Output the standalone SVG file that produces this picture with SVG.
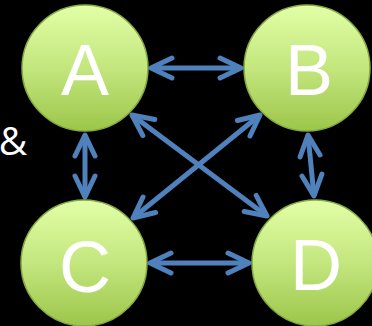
<svg xmlns="http://www.w3.org/2000/svg" width="372" height="326" viewBox="0 0 372 326">
  <defs>
    <linearGradient id="ballFill" x1="0" y1="0" x2="0" y2="1">
      <stop offset="0" stop-color="#e2ffa6"/>
      <stop offset="0.5" stop-color="#c3e67e"/>
      <stop offset="1" stop-color="#9cc64a"/>
    </linearGradient>
    <!-- open chevron head, drawn in user units at both ends of each link -->
    <marker id="chev" viewBox="-26 -14 30 28" markerWidth="30" markerHeight="28" refX="0" refY="0" orient="auto-start-reverse" markerUnits="userSpaceOnUse">
      <path d="M -21 -10 L 0 0 L -21 10" fill="none" stroke="#4f81bd" stroke-width="5" stroke-linecap="round" stroke-linejoin="round"/>
    </marker>
    <style>
      .ball { fill: url(#ballFill); stroke: #86aa44; stroke-width: 1.5; }
      .letter { font-family: "Liberation Sans", Arial, sans-serif; font-size: 72px; fill: #ffffff; text-anchor: middle; }
      .link { stroke: #4f81bd; stroke-width: 5; fill: none; marker-start: url(#chev); marker-end: url(#chev); }
      .amp { font-family: "Open Sans", "Liberation Sans", sans-serif; font-size: 39px; fill: #ffffff; text-anchor: middle; }
    </style>
  </defs>

  <rect width="372" height="326" fill="#000000"/>

  <text class="amp" x="13" y="155">&amp;</text>

  <g id="connectors">
    <line class="link" x1="151" y1="68" x2="241" y2="68"/>
    <line class="link" x1="85" y1="135" x2="85" y2="197"/>
    <line class="link" x1="308" y1="135" x2="314" y2="196"/>
    <line class="link" x1="150" y1="263" x2="249" y2="263"/>
    <line class="link" x1="132" y1="115" x2="267" y2="216"/>
    <line class="link" x1="260" y1="115" x2="133" y2="218"/>
  </g>

  <g id="node-A">
    <circle class="ball" cx="85" cy="68" r="63"/>
    <text class="letter" x="85" y="95">A</text>
  </g>
  <g id="node-B">
    <circle class="ball" cx="307" cy="68" r="63"/>
    <text class="letter" x="309" y="95">B</text>
  </g>
  <g id="node-C">
    <circle class="ball" cx="84" cy="263" r="63"/>
    <text class="letter" x="85" y="292">C</text>
  </g>
  <g id="node-D">
    <circle class="ball" cx="315" cy="263" r="63"/>
    <text class="letter" x="316" y="290">D</text>
  </g>
</svg>
